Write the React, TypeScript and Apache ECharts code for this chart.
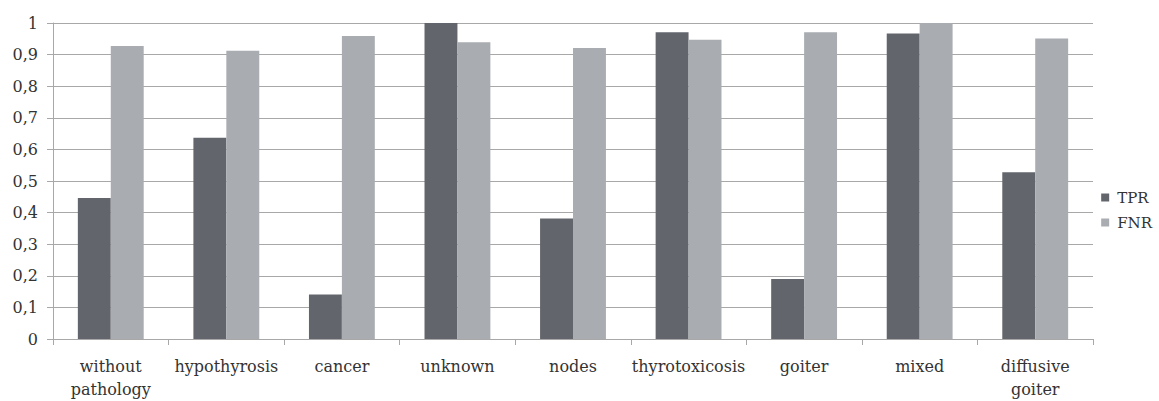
import React, { useEffect, useRef } from "react";
import * as echarts from "echarts";

const categories = [
  "without\npathology",
  "hypothyrosis",
  "cancer",
  "unknown",
  "nodes",
  "thyrotoxicosis",
  "goiter",
  "mixed",
  "diffusive\ngoiter",
];
const tprValues = [0.446, 0.637, 0.141, 1.0, 0.381, 0.971, 0.19, 0.967, 0.528];
const fnrValues = [0.927, 0.912, 0.959, 0.939, 0.921, 0.947, 0.971, 1.0, 0.951];
const seriesNames = ["TPR", "FNR"];

const FONT = "DejaVu Serif";

export default function App() {
  const ref = useRef<HTMLDivElement>(null);
  useEffect(() => {
    if (!ref.current) return;
    const chart = echarts.init(ref.current, undefined, { renderer: "svg" });
    chart.setOption({
      animation: false,
      backgroundColor: "#ffffff",
      textStyle: { fontFamily: FONT },
      grid: { left: 53, right: 66, top: 23, bottom: 60, containLabel: false },
      legend: {
        orient: "vertical",
        right: 2,
        top: 185,
        itemWidth: 8,
        itemHeight: 8,
        itemGap: 10,
        icon: "rect",
        textStyle: { fontFamily: FONT, fontSize: 15, color: "#333", padding: [0, 0, 0, 3] },
        data: seriesNames,
      },
      xAxis: {
        type: "category",
        data: categories,
        axisLine: { lineStyle: { color: "#a8a8a8", width: 1 } },
        axisTick: { show: true, length: 6, lineStyle: { color: "#a8a8a8" } },
        axisLabel: {
          fontFamily: FONT,
          fontSize: 16,
          color: "#333",
          margin: 16,
          lineHeight: 23,
          interval: 0,
        },
      },
      yAxis: {
        type: "value",
        min: 0,
        max: 1,
        interval: 0.1,
        axisLine: { show: true, lineStyle: { color: "#a8a8a8" } },
        axisTick: { show: true, length: 6, lineStyle: { color: "#a8a8a8" } },
        splitLine: { lineStyle: { color: "#a8a8a8", width: 1 } },
        axisLabel: {
          fontFamily: FONT,
          fontSize: 16,
          color: "#333",
          margin: 15,
          formatter: (v: number) =>
            Math.abs(v - Math.round(v)) < 1e-9 ? String(Math.round(v)) : v.toFixed(1).replace(".", ","),
        },
      },
      series: [
        {
          name: seriesNames[0],
          type: "bar",
          data: tprValues,
          barGap: "0%",
          barCategoryGap: "43%",
          itemStyle: { color: "#62666c" },
        },
        {
          name: seriesNames[1],
          type: "bar",
          data: fnrValues,
          barGap: "0%",
          barCategoryGap: "43%",
          itemStyle: { color: "#a9acb1" },
        },
      ],
    });
    return () => chart.dispose();
  }, []);
  return (
    <div
      ref={ref}
      style={{ position: "absolute", left: 0, top: 0, width: 1159, height: 401 }}
    />
  );
}
